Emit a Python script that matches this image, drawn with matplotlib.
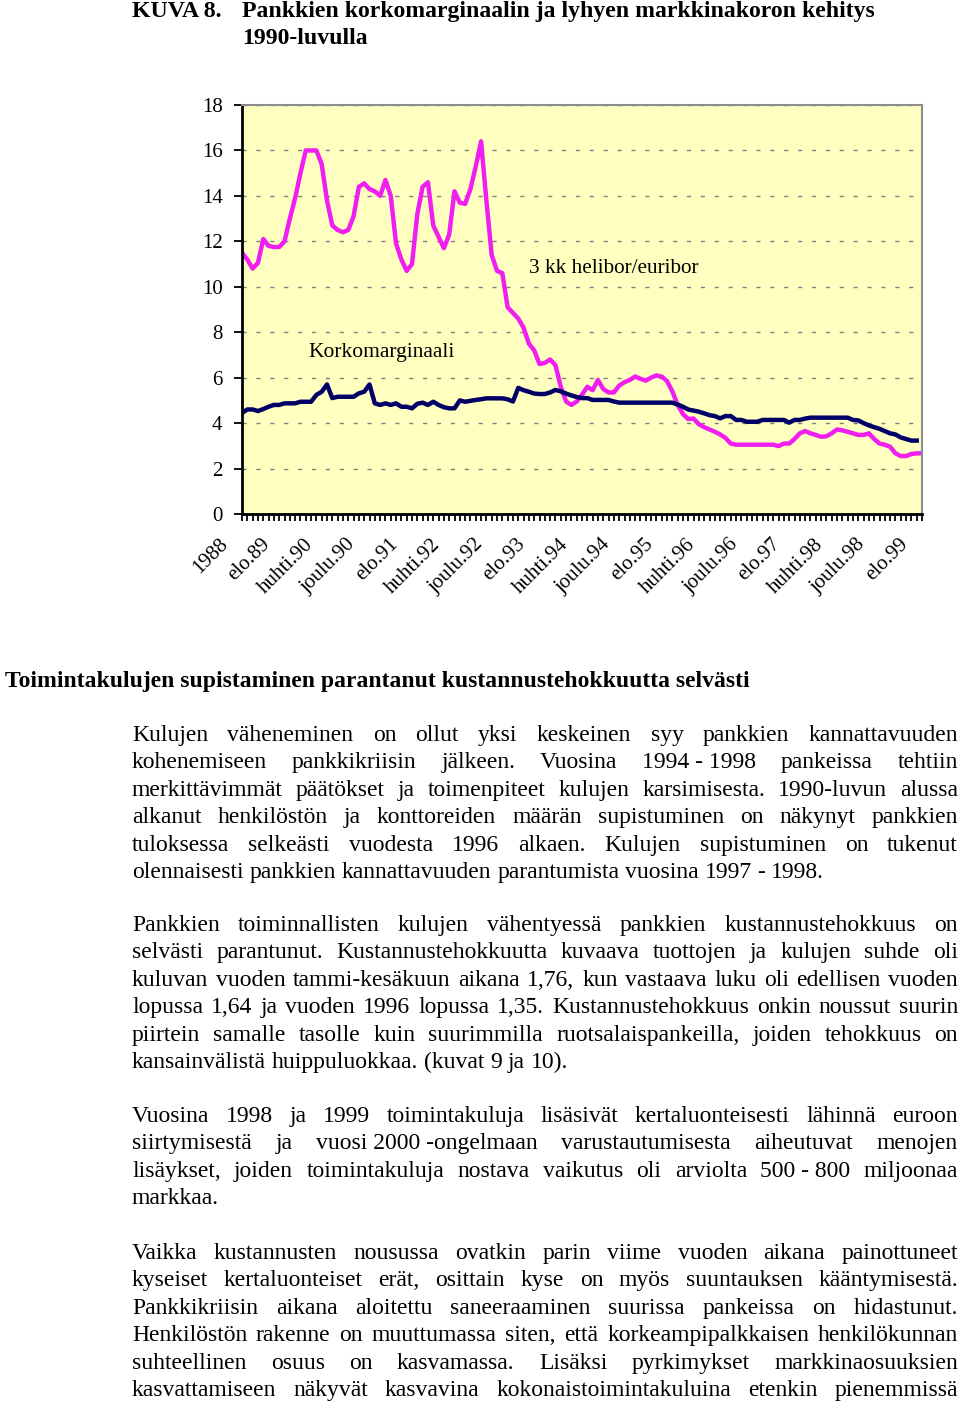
import matplotlib
matplotlib.use('Agg')
import matplotlib.pyplot as plt
import numpy as np
from matplotlib.transforms import ScaledTranslation

plt.rcParams['font.family'] = ['Liberation Serif', 'DejaVu Serif']

# kuukausisarjat joulu.88 - elo.99
helibor = [11.5, 11.2, 10.8, 11.05, 12.1, 11.8, 11.75, 11.75, 12.0, 13.0,
           13.9, 15.0, 16.0, 16.0, 16.0, 15.4, 13.8, 12.7, 12.5, 12.4,
           12.5, 13.1, 14.4, 14.55, 14.3, 14.2, 14.0, 14.7, 14.0, 11.9,
           11.2, 10.7, 11.0, 13.2, 14.4, 14.6, 12.7, 12.2, 11.7, 12.3,
           14.2, 13.7, 13.65, 14.3, 15.3, 16.4, 13.8, 11.4, 10.7, 10.6,
           9.1, 8.85, 8.6, 8.2, 7.5, 7.2, 6.6, 6.65, 6.8, 6.55,
           5.6, 4.95, 4.8, 4.95, 5.25, 5.6, 5.45, 5.9, 5.5, 5.35,
           5.35, 5.65, 5.8, 5.9, 6.05, 5.95, 5.87, 6.0, 6.1, 6.05,
           5.85, 5.4, 4.8, 4.4, 4.18, 4.2, 3.95, 3.82, 3.72, 3.62,
           3.5, 3.35, 3.1, 3.05, 3.05, 3.05, 3.05, 3.05, 3.05, 3.05,
           3.05, 2.99, 3.1, 3.1, 3.3, 3.55, 3.65, 3.55, 3.48, 3.4,
           3.42, 3.55, 3.72, 3.68, 3.62, 3.55, 3.48, 3.48, 3.55, 3.3,
           3.1, 3.05, 2.96, 2.67, 2.55, 2.55, 2.64, 2.67, 2.67]

marginaali = [4.45, 4.6, 4.6, 4.53, 4.62, 4.72, 4.8, 4.8, 4.87, 4.87,
              4.87, 4.94, 4.94, 4.94, 5.24, 5.38, 5.7, 5.1, 5.16, 5.16,
              5.16, 5.16, 5.31, 5.38, 5.7, 4.87, 4.8, 4.87, 4.8, 4.87,
              4.72, 4.72, 4.65, 4.85, 4.9, 4.8, 4.94, 4.8, 4.7, 4.65,
              4.65, 5.0, 4.94, 4.98, 5.02, 5.05, 5.09, 5.09, 5.09, 5.09,
              5.05, 4.95, 5.55, 5.45, 5.38, 5.3, 5.28, 5.28, 5.35, 5.46,
              5.4, 5.3, 5.22, 5.15, 5.1, 5.1, 5.02, 5.02, 5.02, 5.02,
              4.95, 4.9, 4.9, 4.9, 4.9, 4.9, 4.9, 4.9, 4.9, 4.9,
              4.9, 4.9, 4.82, 4.72, 4.6, 4.55, 4.5, 4.43, 4.35, 4.31,
              4.21, 4.31, 4.31, 4.14, 4.14, 4.06, 4.06, 4.06, 4.14, 4.14,
              4.14, 4.14, 4.14, 4.02, 4.14, 4.14, 4.2, 4.24, 4.24, 4.24,
              4.24, 4.24, 4.24, 4.24, 4.24, 4.14, 4.12, 4.0, 3.9, 3.82,
              3.75, 3.65, 3.55, 3.5, 3.37, 3.3, 3.23, 3.23, np.nan]

xlabels = ['1988', 'elo.89', 'huhti.90', 'joulu.90', 'elo.91', 'huhti.92',
           'joulu.92', 'elo.93', 'huhti.94', 'joulu.94', 'elo.95', 'huhti.96',
           'joulu.96', 'elo.97', 'huhti.98', 'joulu.98', 'elo.99']

kuva_nro = 'KUVA 8.'
otsikko = ['Pankkien korkomarginaalin ja lyhyen markkinakoron kehitys',
           '1990-luvulla']
valiotsikko = 'Toimintakulujen supistaminen parantanut kustannustehokkuutta selvästi'

# '~' = sana pysyy yhdessä (ei venytetä)
kappaleet = [
    ['Kulujen väheneminen on ollut yksi keskeinen syy pankkien kannattavuuden',
     'kohenemiseen pankkikriisin jälkeen. Vuosina 1994~-~1998 pankeissa tehtiin',
     'merkittävimmät päätökset ja toimenpiteet kulujen karsimisesta. 1990-luvun alussa',
     'alkanut henkilöstön ja konttoreiden määrän supistuminen on näkynyt pankkien',
     'tuloksessa selkeästi vuodesta 1996 alkaen. Kulujen supistuminen on tukenut',
     'olennaisesti pankkien kannattavuuden parantumista vuosina 1997 - 1998.'],
    ['Pankkien toiminnallisten kulujen vähentyessä pankkien kustannustehokkuus on',
     'selvästi parantunut. Kustannustehokkuutta kuvaava tuottojen ja kulujen suhde oli',
     'kuluvan vuoden tammi-kesäkuun aikana 1,76, kun vastaava luku oli edellisen vuoden',
     'lopussa 1,64 ja vuoden 1996 lopussa 1,35. Kustannustehokkuus onkin noussut suurin',
     'piirtein samalle tasolle kuin suurimmilla ruotsalaispankeilla, joiden tehokkuus on',
     'kansainvälistä huippuluokkaa. (kuvat 9 ja 10).'],
    ['Vuosina 1998 ja 1999 toimintakuluja lisäsivät kertaluonteisesti lähinnä euroon',
     'siirtymisestä ja vuosi~2000~-ongelmaan varustautumisesta aiheutuvat menojen',
     'lisäykset, joiden toimintakuluja nostava vaikutus oli arviolta 500~-~800 miljoonaa',
     'markkaa.'],
    ['Vaikka kustannusten nousussa ovatkin parin viime vuoden aikana painottuneet',
     'kyseiset kertaluonteiset erät, osittain kyse on myös suuntauksen kääntymisestä.',
     'Pankkikriisin aikana aloitettu saneeraaminen suurissa pankeissa on hidastunut.',
     'Henkilöstön rakenne on muuttumassa siten, että korkeampipalkkaisen henkilökunnan',
     'suhteellinen osuus on kasvamassa. Lisäksi pyrkimykset markkinaosuuksien',
     'kasvattamiseen näkyvät kasvavina kokonaistoimintakuluina etenkin pienemmissä'],
]
kappale_y = [734, 924, 1115, 1252]
viimeinen_tasattu = [False, False, False, True]

W, H = 960, 1402
fig = plt.figure(figsize=(W/100, H/100), dpi=100)
ax = fig.add_axes([242/W, 1-514/H, 680/W, 409/H])
ax.set_facecolor('#FFFFC0')

x = np.arange(len(helibor))
ax.plot(x, helibor, color='#F01EF0', lw=3.2)
ax.plot(x, marginaali, color='#000066', lw=3.2)

ax.set_xlim(0, len(helibor)-1)
ax.set_ylim(0, 18)
ax.set_yticks(np.arange(0, 19, 2))
ax.set_yticklabels([str(v) for v in range(0, 19, 2)], fontsize=15)
ax.set_xticks(x[::8])
ax.set_xticklabels(xlabels, fontsize=15, rotation=45, ha='right', va='top')
ax.set_xticks(x, minor=True)
ax.tick_params(axis='x', which='both', length=5, width=1.3, direction='out', pad=10)
ax.tick_params(axis='y', length=6, width=1.3, direction='out', pad=8)
off = ScaledTranslation(-0.10, 0, fig.dpi_scale_trans)
for lab in ax.get_xticklabels():
    lab.set_transform(lab.get_transform() + off)

ax.grid(axis='y', color='#808080', linestyle=(0, (3, 7)), linewidth=1)
for s in ['left', 'bottom']:
    ax.spines[s].set_linewidth(2)
    ax.spines[s].set_color('black')
for s in ['top', 'right']:
    ax.spines[s].set_linewidth(1.5)
    ax.spines[s].set_color('#8C8C8C')

ax.text(0.205, 0.395, 'Korkomarginaali', transform=ax.transAxes, fontsize=15.5,
        ha='center', va='center')
ax.text(0.547, 0.6, '3 kk helibor/euribor', transform=ax.transAxes, fontsize=15.3,
        ha='center', va='center')

# otsikot
fig.text(132/W, 1-17/H, kuva_nro, fontsize=17.2, fontweight='bold', va='baseline')
fig.text(242/W, 1-17/H, otsikko[0], fontsize=17.1, fontweight='bold', va='baseline')
fig.text(242/W, 1-44/H, otsikko[1], fontsize=17.1, fontweight='bold', va='baseline')
fig.text(5/W, 1-687/H, valiotsikko, fontsize=17, fontweight='bold', va='baseline')

# tasattu leipäteksti
r = fig.canvas.get_renderer()
fs = 17
apu = fig.text(0, 0, 'a a', fontsize=fs)
apu2 = fig.text(0, 0, 'aa', fontsize=fs)
valilyonti = apu.get_window_extent(r).width - apu2.get_window_extent(r).width
apu.remove()
apu2.remove()

x0, x1 = 132, 958
riviväli = 27.4
for kappale, y0, tas in zip(kappaleet, kappale_y, viimeinen_tasattu):
    for i, rivi in enumerate(kappale):
        y = y0 + i*riviväli + 7
        sanat = [s.replace('~', ' ') for s in rivi.split(' ')]
        tekstit = [fig.text(0, 0, s, fontsize=fs, va='baseline') for s in sanat]
        lev = [t.get_window_extent(r).width for t in tekstit]
        viimeinen = (i == len(kappale)-1) and not tas
        if viimeinen or len(sanat) == 1:
            vali = valilyonti
        else:
            vali = (x1 - x0 - sum(lev))/(len(sanat)-1)
        xx = x0
        for t, w in zip(tekstit, lev):
            t.set_position((xx/W, 1-y/H))
            xx += w + vali

fig.savefig('out.png', dpi=100)
